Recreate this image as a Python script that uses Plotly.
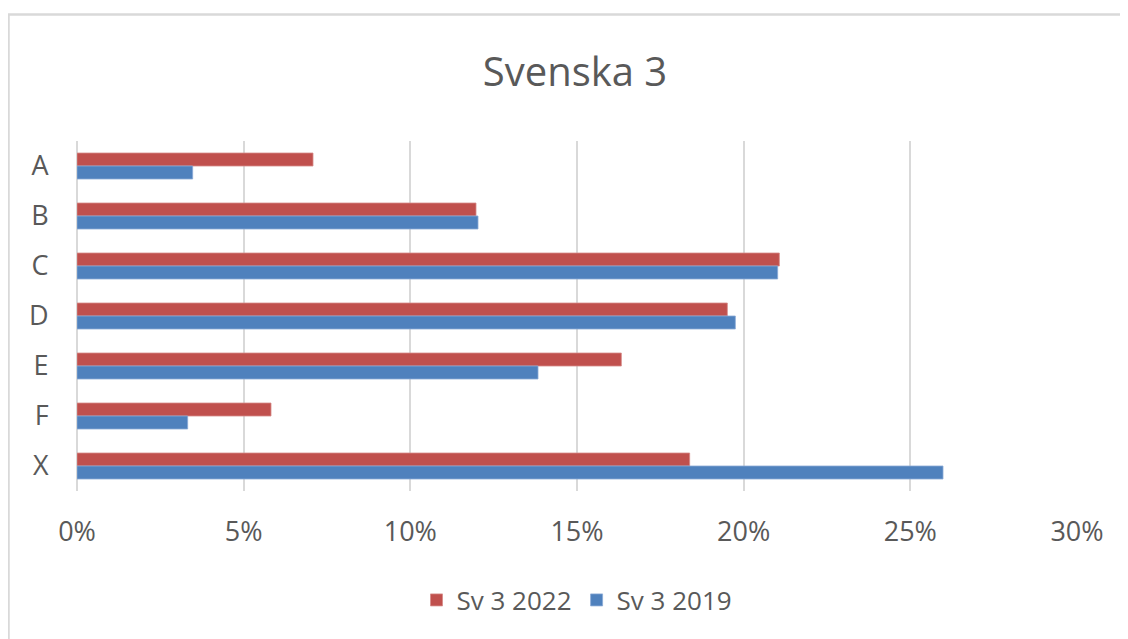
import plotly.graph_objects as go

categories = ["A", "B", "C", "D", "E", "F", "X"]
sv3_2022 = [7.08, 11.97, 21.07, 19.51, 16.33, 5.82, 18.38]
sv3_2019 = [3.47, 12.03, 21.02, 19.75, 13.83, 3.32, 25.98]
x_ticks = [0, 5, 10, 15, 20, 25, 30]
x_tick_labels = ["0%", "5%", "10%", "15%", "20%", "25%", "30%"]

# page body has an 8px margin, so work in offset coordinates
OFF = 8
W, H = 1128 - OFF, 639 - OFF
L, T = 77 - OFF, 141 - OFF
plot_right, plot_bottom = 1077 - OFF, 491 - OFF
R, B = W - plot_right, H - plot_bottom
pw, ph = W - L - R, H - T - B

FONT = "Open Sans"
TXT = "#595959"
GRID = "#D9D9D9"

fig = go.Figure()
fig.add_trace(go.Bar(
    y=categories, x=sv3_2022, name="Sv 3 2022", orientation="h",
    marker=dict(color="#C0504D", line=dict(color="#D68A88", width=0.8)),
))
fig.add_trace(go.Bar(
    y=categories, x=sv3_2019, name="Sv 3 2019", orientation="h",
    marker=dict(color="#4F81BD", line=dict(color="#8AAAD6", width=0.8)),
))

def px_x(p):
    return (p - OFF - L) / pw

def px_y(p):
    return (plot_bottom - (p - OFF)) / ph

fig.update_layout(
    width=W, height=H,
    margin=dict(l=L, r=R, t=T, b=B),
    paper_bgcolor="white", plot_bgcolor="white",
    barmode="group", bargap=0.48, bargroupgap=0,
    font=dict(family=FONT, color=TXT, size=27),
    title=dict(text="Svenska 3", x=(575 - OFF) / W, xanchor="center",
               y=1 - (72 - OFF) / H, yanchor="middle",
               font=dict(family=FONT, size=40, color=TXT)),
    showlegend=True,
    legend=dict(orientation="h", x=0.5, xanchor="center",
                y=px_y(600), yanchor="middle",
                font=dict(family=FONT, size=26, color=TXT),
                itemwidth=30, traceorder="normal"),
    xaxis=dict(range=[0, 30], tickvals=x_ticks, ticktext=x_tick_labels,
               showgrid=True, gridcolor=GRID, gridwidth=2,
               zeroline=True, zerolinecolor=GRID, zerolinewidth=2,
               showline=False, ticks="outside", ticklen=17,
               tickcolor="rgba(0,0,0,0)",
               tickfont=dict(family=FONT, size=27, color=TXT)),
    yaxis=dict(autorange="reversed", showgrid=False, zeroline=False,
               showline=False, ticks="outside", ticklen=22,
               tickcolor="rgba(0,0,0,0)",
               tickfont=dict(family=FONT, size=27, color=TXT)),
    shapes=[dict(type="rect", xref="paper", yref="paper",
                 x0=px_x(8.5), x1=px_x(1128 + 10), y0=px_y(639 + 10), y1=px_y(14.5),
                 line=dict(color=GRID, width=2.5), fillcolor="rgba(0,0,0,0)",
                 layer="below")],
)

fig.write_html("out.html")
